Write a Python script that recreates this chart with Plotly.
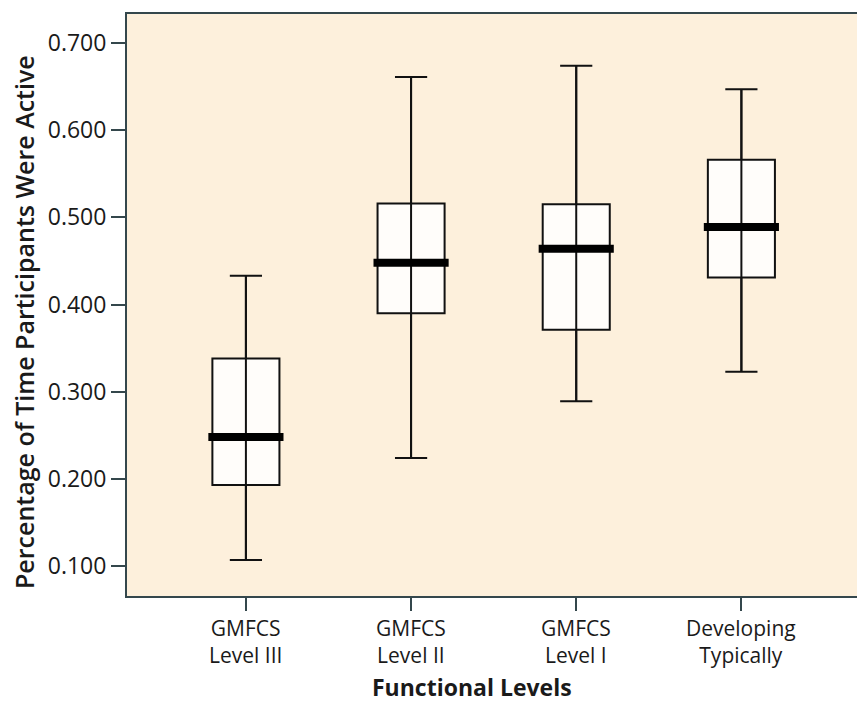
import plotly.graph_objects as go

tick_labels = ["GMFCS<br>Level III", "GMFCS<br>Level II", "GMFCS<br>Level I", "Developing<br>Typically"]
lower_whisker = [0.107, 0.224, 0.289, 0.323]
q1_values = [0.193, 0.390, 0.371, 0.431]
median_values = [0.248, 0.448, 0.464, 0.489]
q3_values = [0.338, 0.516, 0.515, 0.566]
upper_whisker = [0.433, 0.661, 0.674, 0.647]
y_ticks = [0.1, 0.2, 0.3, 0.4, 0.5, 0.6, 0.7]

positions = list(range(len(tick_labels)))
BOX_W = 0.406
MED_W = 0.455
LINE = "#111111"
TEXT = "#1A1A1A"
FONT = "Open Sans"
L, R, T, B = 127, 0, 14, 119
W, H = 857, 715
PW, PH = W - L - R, H - T - B
BOTTOM = T + PH


def py(pix):
    """pixel row -> paper y"""
    return (BOTTOM - pix) / PH


def px(pix):
    """pixel column -> paper x"""
    return (pix - L) / PW


fig = go.Figure()
fig.add_trace(go.Box(
    x=positions, q1=q1_values, median=median_values, q3=q3_values,
    lowerfence=lower_whisker, upperfence=upper_whisker,
    width=BOX_W, whiskerwidth=0.48,
    fillcolor="#FFFDFA", line=dict(color=LINE, width=2),
    boxpoints=False, showlegend=False, hoverinfo="skip",
))
# whisker line running through the box
wx, wy = [], []
for p, lo, hi in zip(positions, lower_whisker, upper_whisker):
    wx += [p, p, None]
    wy += [lo, hi, None]
fig.add_trace(go.Scatter(x=wx, y=wy, mode="lines", line=dict(color=LINE, width=2),
                         showlegend=False, hoverinfo="skip"))
# thick median bars
mx, my = [], []
for p, m in zip(positions, median_values):
    mx += [p - MED_W / 2, p + MED_W / 2, None]
    my += [m, m, None]
fig.add_trace(go.Scatter(x=mx, y=my, mode="lines", line=dict(color="#000000", width=8),
                         showlegend=False, hoverinfo="skip"))

annotations = []
for p, t in zip(positions, tick_labels):
    annotations.append(dict(text=t, xref="x", yref="paper", x=p, y=py(641),
                            xanchor="center", yanchor="middle", showarrow=False,
                            font=dict(size=21, family=FONT, color=TEXT)))
annotations.append(dict(text="Functional Levels", xref="paper", yref="paper",
                        x=px(472), y=py(687), xanchor="center", yanchor="middle",
                        showarrow=False, font=dict(size=23, family=FONT, color=TEXT, weight=700)))
annotations.append(dict(text="Percentage of Time Participants Were Active", xref="paper", yref="paper",
                        x=px(24), y=py(322), xanchor="center", yanchor="middle",
                        textangle=-90, showarrow=False,
                        font=dict(size=25, family=FONT, color=TEXT, weight=600)))

axis_col = "#34474C"
fig.update_layout(
    width=W, height=H,
    margin=dict(l=L, r=R, t=T, b=B, autoexpand=False),
    paper_bgcolor="white", plot_bgcolor="#FDF0DC",
    font=dict(family=FONT, color=TEXT),
    xaxis=dict(
        range=[-0.72, 3.70], tickmode="array", tickvals=positions, showticklabels=False,
        showgrid=False, zeroline=False, showline=True, linecolor=axis_col, linewidth=2,
        mirror=True, ticks="outside", ticklen=13, tickwidth=2, tickcolor=axis_col,
        automargin=False,
    ),
    yaxis=dict(
        range=[0.0656, 0.7333], tickmode="array", tickvals=y_ticks,
        ticktext=[f"{v:.3f}" for v in y_ticks],
        showgrid=False, zeroline=False, showline=True, linecolor=axis_col, linewidth=2,
        ticks="outside", ticklen=14, tickwidth=2, tickcolor=axis_col,
        tickfont=dict(size=23, family=FONT, color=TEXT), automargin=False,
    ),
    annotations=annotations,
)

fig.write_html("out.html", config={"displayModeBar": False},
               post_script="document.body.style.margin='0';document.body.style.overflow='hidden';")
